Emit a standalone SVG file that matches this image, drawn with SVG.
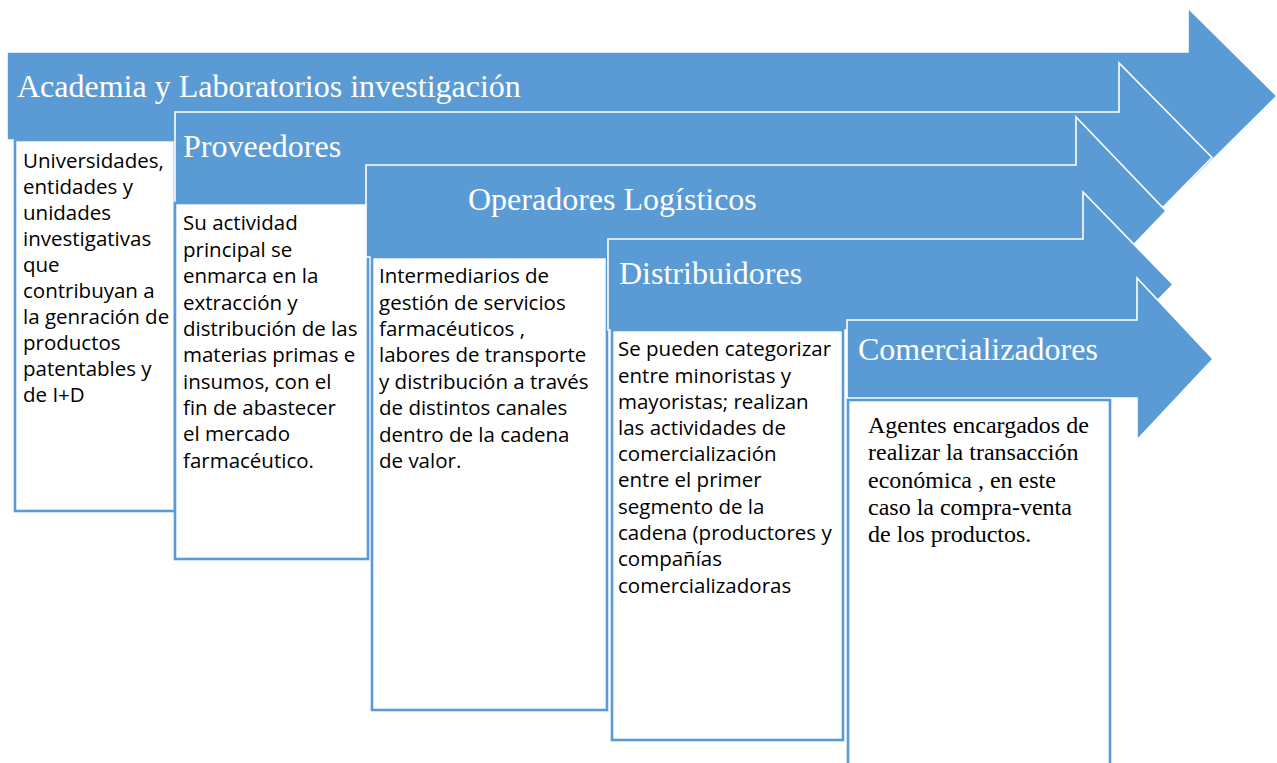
<svg xmlns="http://www.w3.org/2000/svg" width="1277" height="763" viewBox="0 0 1277 763">
<style>
.arrow{fill:#5b9bd5;stroke:#ffffff;stroke-width:1.6;stroke-linejoin:miter}
.box{fill:#ffffff;stroke:#5b9bd5;stroke-width:2.6}
.head{font-family:"Liberation Serif","Times New Roman",serif;font-size:32px;fill:#ffffff}
.body{font-family:"Open Sans","Liberation Sans",sans-serif;font-size:20.5px;fill:#000000}
.serif{font-family:"Liberation Serif","Times New Roman",serif;font-size:24px;fill:#000000}
</style>
<rect x="0" y="0" width="1277" height="763" fill="#ffffff"/>
<g id="academia">
<polygon class="arrow" points="7,52 1188,52 1188,8 1277,96 1188,184 1188,140 7,140"/>
<text class="head" x="17" y="97">Academia y Laboratorios investigación</text>
<rect class="box" x="15" y="140" width="160" height="371"/>
<text class="body">
<tspan x="23" y="168">Universidades,</tspan>
<tspan x="23" y="194">entidades y</tspan>
<tspan x="23" y="220">unidades</tspan>
<tspan x="23" y="246">investigativas</tspan>
<tspan x="23" y="272">que</tspan>
<tspan x="23" y="298">contribuyan a</tspan>
<tspan x="23" y="324">la genración de</tspan>
<tspan x="23" y="350">productos</tspan>
<tspan x="23" y="376">patentables y</tspan>
<tspan x="23" y="402">de I+D</tspan>
</text>
</g>
<g id="proveedores">
<polygon class="arrow" points="175,112 1119,112 1119,63 1212,157.5 1119,252 1119,203 175,203"/>
<text class="head" x="183" y="157">Proveedores</text>
<rect class="box" x="175" y="203" width="193" height="356"/>
<text class="body">
<tspan x="183" y="230">Su actividad</tspan>
<tspan x="183" y="257">principal se</tspan>
<tspan x="183" y="283">enmarca en la</tspan>
<tspan x="183" y="310">extracción y</tspan>
<tspan x="183" y="336">distribución de las</tspan>
<tspan x="183" y="362">materias primas e</tspan>
<tspan x="183" y="389">insumos, con el</tspan>
<tspan x="183" y="415">fin de abastecer</tspan>
<tspan x="183" y="441">el mercado</tspan>
<tspan x="183" y="468">farmacéutico.</tspan>
</text>
</g>
<g id="operadores">
<polygon class="arrow" points="366,165 1076,165 1076,117 1166,211 1076,305 1076,257 366,257"/>
<text class="head" x="468" y="210">Operadores Logísticos</text>
<rect class="box" x="372" y="257" width="235" height="453"/>
<text class="body">
<tspan x="379" y="283">Intermediarios de</tspan>
<tspan x="379" y="310">gestión de servicios</tspan>
<tspan x="379" y="336">farmacéuticos ,</tspan>
<tspan x="379" y="362">labores de transporte</tspan>
<tspan x="379" y="389">y distribución a través</tspan>
<tspan x="379" y="415">de distintos canales</tspan>
<tspan x="379" y="442">dentro de la cadena</tspan>
<tspan x="379" y="468">de valor.</tspan>
</text>
</g>
<g id="distribuidores">
<polygon class="arrow" points="608,239 1083,239 1083,192 1173,284.5 1083,377 1083,330 608,330"/>
<text class="head" x="619" y="284">Distribuidores</text>
<rect class="box" x="612" y="330" width="231" height="410"/>
<text class="body">
<tspan x="618" y="356">Se pueden categorizar</tspan>
<tspan x="618" y="383">entre minoristas y</tspan>
<tspan x="618" y="409">mayoristas; realizan</tspan>
<tspan x="618" y="435">las actividades de</tspan>
<tspan x="618" y="461">comercialización</tspan>
<tspan x="618" y="487">entre el primer</tspan>
<tspan x="618" y="514">segmento de la</tspan>
<tspan x="618" y="540">cadena (productores y</tspan>
<tspan x="618" y="566">compañías</tspan>
<tspan x="618" y="593">comercializadoras</tspan>
</text>
</g>
<g id="comercializadores">
<polygon class="arrow" points="847,320 1137,320 1137,278 1213,359 1137,440 1137,398 847,398"/>
<text class="head" x="858" y="360">Comercializadores</text>
<rect class="box" x="848" y="400" width="262" height="380"/>
<text class="serif">
<tspan x="868" y="433">Agentes encargados de</tspan>
<tspan x="868" y="460">realizar la transacción</tspan>
<tspan x="868" y="488">económica , en este</tspan>
<tspan x="868" y="515">caso la compra-venta</tspan>
<tspan x="868" y="542">de los productos.</tspan>
</text>
</g>
<g id="connectors"></g>
</svg>
